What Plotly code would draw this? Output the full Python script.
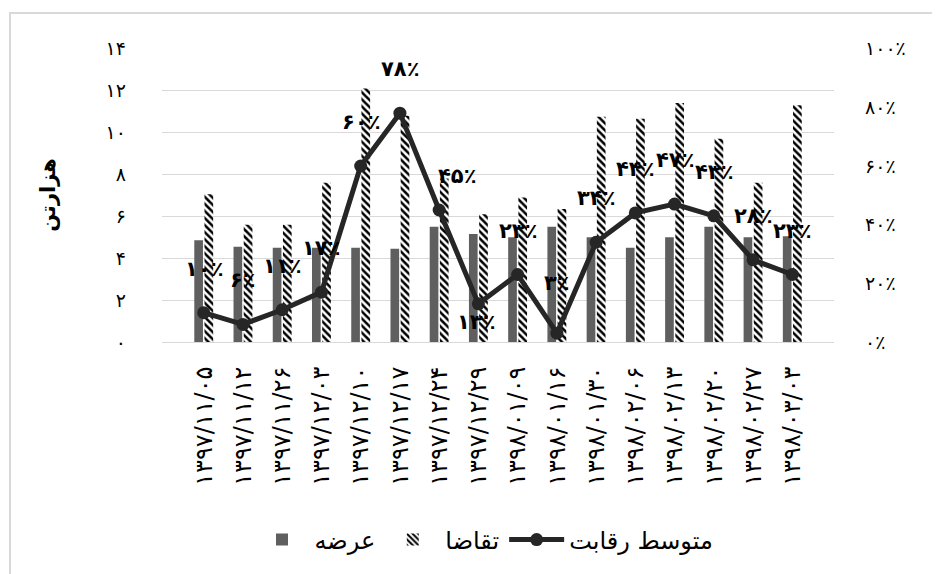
import plotly.graph_objects as go

PD = str.maketrans("0123456789", "۰۱۲۳۴۵۶۷۸۹")

def fa(s):
    return str(s).translate(PD)

dates = ["1397/11/05", "1397/11/12", "1397/11/26", "1397/12/03", "1397/12/10",
         "1397/12/17", "1397/12/24", "1397/12/29", "1398/01/09", "1398/01/16",
         "1398/01/30", "1398/02/06", "1398/02/13", "1398/02/20", "1398/02/27",
         "1398/03/03"]
categories = [fa(d) for d in dates]

supply = [4.85, 4.55, 4.5, 4.5, 4.5, 4.45, 5.5, 5.15, 5.0, 5.5, 5.0, 4.5, 5.0, 5.5, 5.0, 5.05]
demand = [7.05, 5.6, 5.6, 7.6, 12.1, 10.8, 7.8, 6.1, 6.9, 6.35, 10.75, 10.65, 11.4, 9.7, 7.6, 11.3]
competition_pct = [10, 6, 11, 17, 60, 78, 45, 13, 23, 3, 34, 44, 47, 43, 28, 23]

left_ticks = [0, 2, 4, 6, 8, 10, 12, 14]
right_ticks = [0, 20, 40, 60, 80, 100]

name_supply = "عرضه"
name_demand = "تقاضا"
name_comp = "متوسط رقابت"
y_title = "هزارتن"

FONT = "DejaVu Sans"
OFF = 8  # page body margin
W, H = 932, 566
PL, PR, PT, PB = 162, 834, 48, 342   # plot area in page pixels
L, T = PL - OFF, PT - OFF
R = W - L - (PR - PL)
B = H - T - (PB - PT)
PW, PH = PR - PL, PB - PT

def px_x(p):
    return (p - PL) / PW

def px_y(p):
    return (PB - p) / PH

# label offsets (style): (xshift, yshift) in px
label_shift = [(0, 44)] * len(competition_pct)
label_shift = list(label_shift)
label_shift[6] = (18, 34)
label_shift[7] = (-2, -18)
label_shift[9] = (0, 50)

fig = go.Figure()
fig.add_trace(go.Bar(
    x=categories, y=supply, name=name_supply,
    marker=dict(color="#5f5f5f", line=dict(width=0)),
))
fig.add_trace(go.Bar(
    x=categories, y=demand, name=name_demand,
    marker=dict(color="white", line=dict(width=0),
                pattern=dict(shape="\\", fgcolor="black", bgcolor="white",
                             size=5, solidity=0.5, fillmode="replace")),
))
fig.add_trace(go.Scatter(
    x=categories, y=[v / 100 for v in competition_pct], name=name_comp,
    yaxis="y2", mode="lines+markers",
    line=dict(color="#262626", width=5),
    marker=dict(color="#262626", size=13),
))

annotations = []
for c, v, (dx, dy) in zip(categories, competition_pct, label_shift):
    annotations.append(dict(
        x=c, y=v / 100, xref="x", yref="y2", text=fa(v) + "٪",
        showarrow=False, xshift=dx, yshift=dy,
        font=dict(family=FONT, size=21, color="black", weight="bold"),
    ))

fig.update_layout(
    width=W, height=H,
    margin=dict(l=L, r=R, t=T, b=B, autoexpand=False),
    paper_bgcolor="white", plot_bgcolor="white",
    font=dict(family=FONT, color="black"),
    barmode="group", bargap=0.48, bargroupgap=0.15,
    showlegend=True,
    legend=dict(orientation="h", x=px_x(484), y=px_y(540),
                xanchor="center", yanchor="middle",
                font=dict(family=FONT, size=24, color="black"),
                itemwidth=55, traceorder="normal"),
    xaxis=dict(
        type="category", tickangle=-90, showgrid=False,
        showline=True, linecolor="#d9d9d9", linewidth=1,
        ticks="", tickfont=dict(family=FONT, size=24, color="black"),
        ticklabelstandoff=14,
    ),
    yaxis=dict(
        range=[0, 14.03], tickvals=left_ticks, ticktext=[fa(t) for t in left_ticks],
        showgrid=True, gridcolor="#d9d9d9", gridwidth=1.3, zeroline=False,
        ticks="", tickfont=dict(family=FONT, size=19, color="black"),
        ticklabelstandoff=35,
        title=dict(text=y_title, standoff=44,
                   font=dict(family=FONT, size=21, color="black", weight="bold")),
    ),
    yaxis2=dict(
        range=[0, 14.03 / 14], overlaying="y", side="right",
        tickvals=[t / 100 for t in right_ticks],
        ticktext=[fa(t) + "٪" for t in right_ticks],
        showgrid=False, zeroline=False, ticks="",
        tickfont=dict(family=FONT, size=19, color="black"),
        ticklabelstandoff=30,
    ),
    annotations=annotations,
    shapes=[dict(type="rect", xref="paper", yref="paper",
                 x0=px_x(10), x1=px_x(960), y0=px_y(600), y1=px_y(13),
                 line=dict(color="#d9d9d9", width=2), layer="above")],
)

fig.write_html("out.html")
